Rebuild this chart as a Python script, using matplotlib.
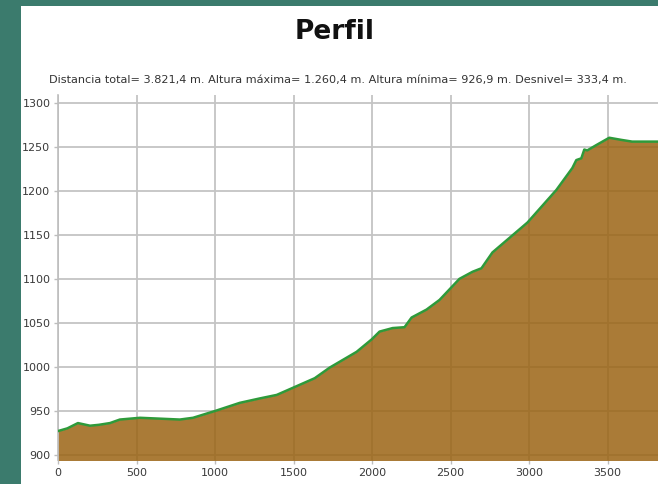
import matplotlib.pyplot as plt
from matplotlib.patches import Rectangle

# Elevation profile
distancia = [0, 60, 127, 204, 260, 331, 394, 522, 650, 776, 860, 1005, 1158,
             1285, 1393, 1495, 1635, 1730, 1902, 1997, 2048, 2131, 2207, 2252,
             2347, 2430, 2557, 2640, 2697, 2767, 2990, 3174, 3276, 3301, 3333,
             3352, 3371, 3428, 3511, 3587, 3657, 3821.4]
altura = [926.9, 930, 936, 933, 934, 936, 940, 942, 941, 940, 942, 950, 959,
          964, 968, 976, 987, 999, 1017, 1031, 1040, 1044, 1045, 1056,
          1065, 1076, 1100, 1108, 1112, 1130, 1164, 1201, 1226, 1235, 1237,
          1247, 1246, 1252, 1260.4, 1258, 1256, 1256]

x_ticks = [0, 500, 1000, 1500, 2000, 2500, 3000, 3500]
y_ticks = [900, 950, 1000, 1050, 1100, 1150, 1200, 1250, 1300]

titulo = 'Perfil'
resumen = ('Distancia total= 3.821,4 m. Altura máxima= 1.260,4 m. '
           'Altura mínima= 926,9 m. Desnivel= 333,4 m.')

fig = plt.figure(figsize=(6.58, 4.84), dpi=100)
fig.patch.set_facecolor('#3b7b6d')
# white panel inside the teal frame
fig.patches.append(Rectangle((21 / 658, 0), 1 - 21 / 658, 478 / 484,
                             transform=fig.transFigure, facecolor='white',
                             edgecolor='none', zorder=0))

ax = fig.add_axes([58 / 658, 24 / 484, 1 - 58 / 658, 365 / 484])
ax.set_zorder(2)
ax.set_facecolor('white')
ax.set_xlim(0, 3821.4)
ax.set_ylim(894, 1309)

ax.grid(True, color='#c4c4c4', linewidth=1.3)
ax.set_axisbelow(True)
ax.fill_between(distancia, altura, 880, color='#9b6414', alpha=0.85,
                linewidth=0, zorder=2)
ax.plot(distancia, altura, color='#2e9a3a', linewidth=1.8, zorder=3)

ax.set_xticks(x_ticks)
ax.set_yticks(y_ticks)
ax.tick_params(labelsize=8, colors='#bdbdbd', labelcolor='#3a3a3a',
               length=3, width=1, pad=2.5)
for s in ['top', 'right', 'bottom']:
    ax.spines[s].set_visible(False)
ax.spines['left'].set_color('#bdbdbd')
ax.spines['left'].set_linewidth(1.2)

fig.text(0.509, 0.934, titulo, ha='center', va='center', fontsize=19,
         fontweight='bold', color='#111111', zorder=3)
fig.text(0.514, 0.835, resumen, ha='center', va='center', fontsize=8.1,
         color='#333333', zorder=3)

plt.savefig('out.png', dpi=100, facecolor=fig.get_facecolor())
